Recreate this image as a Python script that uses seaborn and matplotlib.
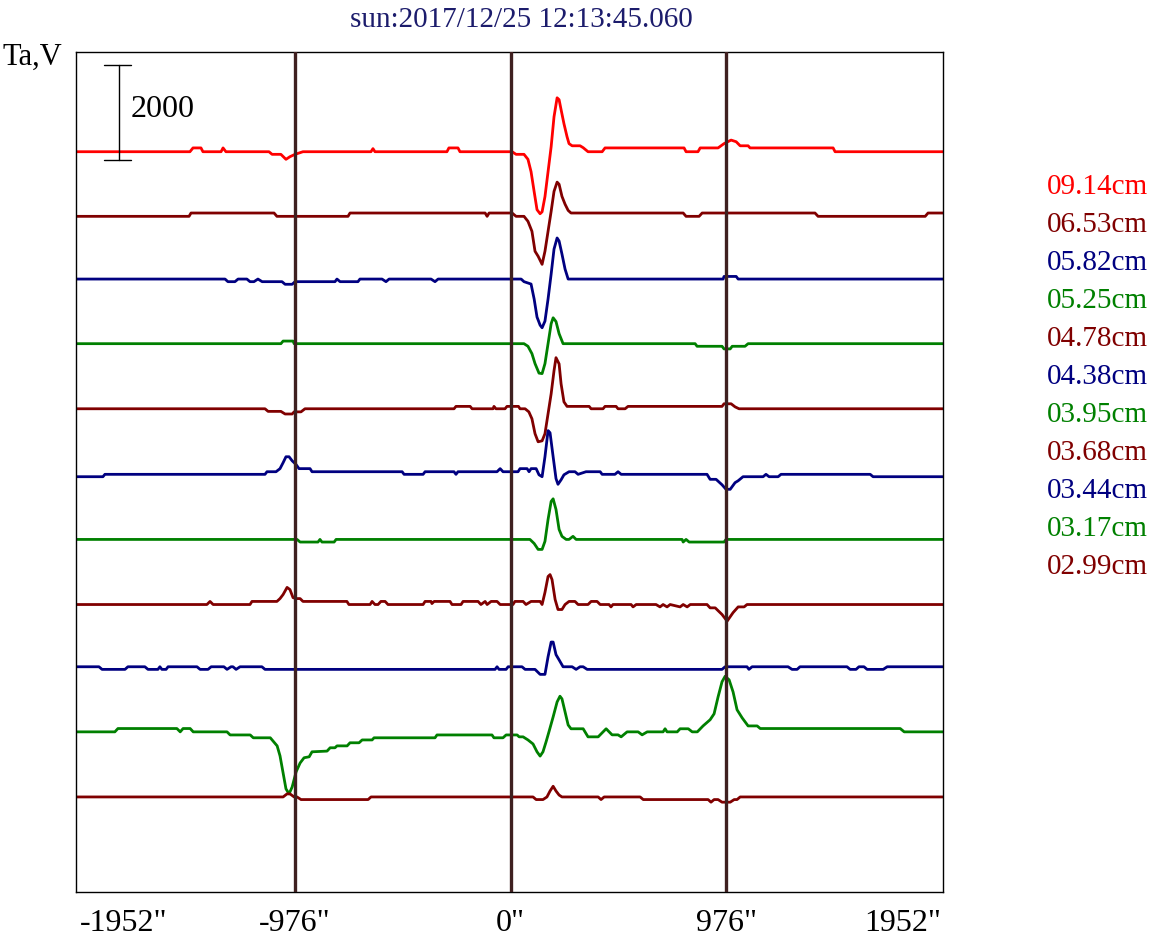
import matplotlib
matplotlib.use('Agg')
import matplotlib.pyplot as plt
import pandas as pd
import seaborn as sns

# Scan profiles: (position in arcsec, deviation of Ta from the trace baseline)
t914 = [(-1969, 0), (-1453, 0), (-1439, 80), (-1403, 80), (-1394, 0), (-1312, 0), (-1303, 80), (-1290, 0),
        (-1095, 0), (-1081, -55), (-1041, -55), (-1018, -160), (-1000, -105), (-977, -55), (-941, 0),
        (-633, 0), (-624, 65), (-615, 0), (-289, 0), (-280, 80), (-239, 80), (-230, 0), (6, 0), (24, -55),
        (60, -55), (78, -160), (92, -420), (106, -840), (119, -1220), (133, -1305), (142, -1265), (155, -945),
        (169, -420), (183, 105), (196, 735), (210, 1135), (219, 1095), (228, 885), (241, 590), (255, 315),
        (264, 170), (278, 125), (314, 125), (328, 85), (350, 0), (414, 0), (427, 80), (785, 80), (794, 0),
        (848, 0), (858, 80), (939, 80), (966, 170), (998, 245), (1021, 210), (1039, 125), (1075, 125),
        (1084, 80), (1460, 80), (1469, 0), (1958, 0)]
t653 = [(-1969, 0), (-1457, 0), (-1448, 70), (-1072, 70), (-1059, 0), (-737, 0), (-728, 70), (-116, 70),
        (-107, 0), (-98, 70), (6, 70), (24, 0), (60, 0), (78, -105), (96, -315), (110, -735), (124, -840),
        (142, -1010), (155, -735), (169, -315), (183, 105), (196, 525), (210, 720), (219, 675), (232, 420),
        (246, 255), (260, 125), (273, 70), (781, 70), (794, 0), (853, 0), (867, 70), (1378, 70), (1392, 0),
        (1877, 0), (1890, 70), (1958, 70)]
t582 = [(-1969, 0), (-1294, 0), (-1281, -55), (-1249, -55), (-1235, 0), (-1195, 0), (-1181, -55), (-1163, -55),
        (-1145, 0), (-1126, -55), (-1036, -55), (-1022, -110), (-990, -110), (-977, -55), (-796, -55),
        (-787, 0), (-773, -55), (-692, -55), (-683, 0), (-583, 0), (-565, -55), (-551, 0), (-361, 0),
        (-343, -55), (-329, 0), (47, 0), (60, -55), (92, -105), (106, -420), (119, -800), (133, -970),
        (142, -1025), (155, -885), (169, -420), (183, 105), (196, 630), (210, 865), (219, 800), (232, 525),
        (246, 210), (260, 0), (962, 0), (966, 55), (1021, 55), (1030, 0), (1958, 0)]
t525 = [(-1969, 0), (-1041, 0), (-1031, 55), (-986, 55), (-981, 0), (60, 0), (78, -55), (96, -210),
        (110, -420), (128, -620), (142, -630), (155, -420), (169, 0), (183, 420), (192, 545), (205, 465),
        (219, 210), (237, 0), (835, 0), (844, -55), (957, -55), (966, -110), (994, -110), (1003, -55),
        (1061, -55), (1075, 0), (1958, 0)]
t478 = [(-1969, 0), (-1113, 0), (-1099, -55), (-1041, -55), (-1022, -110), (-990, -110), (-981, -65),
        (-950, -65), (-932, 0), (-257, 0), (-248, 50), (-184, 50), (-175, 0), (-80, 0), (-76, 50), (-67, 0),
        (-26, 0), (-17, 50), (35, 50), (42, 0), (65, 0), (82, -65), (96, -210), (110, -525), (124, -695),
        (142, -675), (155, -525), (169, -105), (183, 315), (196, 800), (205, 1075), (219, 945), (228, 525),
        (241, 145), (255, 50), (355, 50), (364, 0), (418, 0), (427, 50), (477, 50), (486, 0), (518, 0),
        (531, 50), (957, 50), (966, 105), (998, 105), (1016, 40), (1034, 0), (1958, 0)]
t438 = [(-1969, 0), (-1847, 0), (-1838, 50), (-1113, 50), (-1104, 105), (-1063, 105), (-1045, 170),
        (-1031, 295), (-1018, 420), (-1004, 420), (-990, 335), (-972, 255), (-959, 170), (-909, 170),
        (-900, 105), (-492, 105), (-483, 50), (-397, 50), (-388, 105), (-257, 105), (-248, 50), (-239, 105),
        (-62, 105), (-48, 170), (-35, 105), (33, 105), (42, 170), (74, 170), (83, 105), (92, 170), (115, 170),
        (128, 40), (142, 0), (155, 420), (169, 970), (178, 925), (192, 420), (205, -40), (214, -160),
        (228, -65), (241, 40), (264, 105), (291, 105), (305, 50), (341, 105), (405, 105), (414, 50), (472, 50),
        (486, 105), (500, 50), (889, 50), (903, -55), (930, -55), (957, -170), (975, -265), (994, -265),
        (1016, -125), (1030, -85), (1052, 0), (1143, 0), (1156, 50), (1170, 0), (1211, 0), (1224, 50),
        (1628, 50), (1641, 0), (1958, 0)]
t395 = [(-1969, 0), (-968, 0), (-954, -55), (-873, -55), (-864, 0), (-855, -55), (-800, -55), (-791, 0),
        (87, 0), (106, -85), (124, -210), (142, -210), (155, -40), (169, 420), (183, 800), (192, 855),
        (205, 630), (219, 210), (232, 65), (251, 0), (264, 0), (282, 65), (296, 0), (776, 0), (781, -55),
        (794, 0), (808, -55), (966, -55), (975, 0), (1958, 0)]
t368 = [(-1969, 0), (-1376, 0), (-1362, 65), (-1348, 0), (-1181, 0), (-1172, 65), (-1059, 65), (-1045, 125),
        (-1031, 210), (-1013, 360), (-1000, 315), (-986, 145), (-972, 125), (-954, 125), (-941, 65),
        (-742, 65), (-733, 0), (-637, 0), (-628, 65), (-615, 0), (-601, 0), (-588, 65), (-569, 65), (-556, 0),
        (-397, 0), (-388, 65), (-361, 65), (-357, 20), (-347, 65), (-275, 65), (-266, 0), (-225, 0),
        (-216, 65), (-148, 65), (-135, 0), (-116, 65), (-107, 0), (-89, 65), (-62, 65), (-48, 0), (10, 0),
        (19, 65), (56, 65), (69, 0), (92, 65), (133, 65), (142, 0), (155, 255), (169, 590), (178, 630),
        (187, 525), (201, 105), (214, -105), (232, -105), (246, 0), (264, 65), (291, 65), (305, 0), (350, 0),
        (364, 65), (391, 65), (405, 0), (445, 0), (454, -50), (463, 0), (545, 0), (554, -50), (568, 0),
        (658, 0), (676, -50), (690, 0), (708, -50), (722, 0), (767, -50), (781, 0), (799, -50), (813, 0),
        (889, 0), (903, -70), (926, -70), (957, -210), (980, -350), (1007, -170), (1030, -50), (1057, -50),
        (1070, 0), (1958, 0)]
t344 = [(-1969, 0), (-1865, 0), (-1851, -55), (-1747, -55), (-1734, 0), (-1657, 0), (-1643, -55), (-1598, -55),
        (-1589, 0), (-1580, -55), (-1561, -55), (-1552, 0), (-1421, 0), (-1407, -55), (-1371, -55),
        (-1357, 0), (-1299, 0), (-1285, -55), (-1267, 0), (-1258, 0), (-1244, -55), (-1226, 0), (-1127, 0),
        (-1113, -55), (-71, -55), (-62, 0), (-53, -55), (-21, -55), (-12, 0), (51, 0), (65, -55), (110, -55),
        (133, -160), (155, -160), (169, 210), (183, 520), (192, 520), (205, 255), (219, 145), (237, 0),
        (278, 0), (296, -55), (314, 0), (328, 0), (346, -55), (957, -55), (971, 0), (1070, 0), (1079, -55),
        (1093, 0), (1256, 0), (1274, -55), (1297, -55), (1310, 0), (1523, 0), (1537, -55), (1564, -55),
        (1577, 0), (1600, 0), (1614, -55), (1687, -55), (1705, 0), (1958, 0)]
t317 = [(-1969, 0), (-1793, 0), (-1779, 70), (-1512, 70), (-1497, 0), (-1484, 70), (-1452, 70), (-1438, 0),
        (-1285, 0), (-1271, -65), (-1180, -65), (-1166, -125), (-1089, -125), (-1058, -295), (-1045, -505),
        (-1031, -865), (-1018, -1200), (-1004, -1305), (-990, -1160), (-972, -840), (-954, -655),
        (-936, -545), (-913, -525), (-900, -420), (-832, -405), (-818, -335), (-796, -335), (-787, -295),
        (-741, -295), (-728, -230), (-687, -230), (-673, -170), (-628, -170), (-619, -125), (-343, -125),
        (-334, -65), (-85, -65), (-76, -125), (-35, -125), (-21, -65), (29, -65), (38, -105), (56, -105),
        (78, -170), (101, -255), (119, -420), (133, -510), (146, -420), (160, -210), (173, 0), (192, 315),
        (210, 630), (223, 750), (232, 695), (246, 420), (260, 145), (273, 65), (328, 65), (350, -105),
        (396, -105), (432, 65), (459, -63), (486, -63), (500, -105), (527, 0), (577, 0), (595, -63), (618, 0),
        (690, 0), (699, 65), (708, 0), (754, 0), (767, 65), (804, 65), (822, 0), (845, 0), (871, 125),
        (903, 255), (921, 380), (939, 735), (957, 1055), (971, 1170), (989, 1095), (1007, 840), (1025, 465),
        (1048, 295), (1075, 125), (1116, 125), (1130, 70), (1764, 70), (1782, 0), (1958, 0)]
t299 = [(-1969, 0), (-1031, 0), (-1013, 65), (-1000, 65), (-981, 0), (-968, 0), (-950, -55), (-646, -55),
        (-633, 0), (101, 0), (115, -55), (146, -55), (164, 0), (178, 125), (192, 225), (205, 125), (219, 40),
        (232, 0), (396, 0), (409, -55), (423, 0), (586, 0), (600, -55), (894, -55), (907, -110), (921, -55),
        (939, -55), (957, -110), (994, -110), (1012, -55), (1025, -55), (1039, 0), (1958, 0)]

waves = ['09.14cm', '06.53cm', '05.82cm', '05.25cm', '04.78cm', '04.38cm',
         '03.95cm', '03.68cm', '03.44cm', '03.17cm', '02.99cm']
profiles = [t914, t653, t582, t525, t478, t438, t395, t368, t344, t317, t299]
baselines = [15580, 14220, 12900, 11540, 10170, 8740, 7420, 6050, 4740, 3370, 2000]
colors = ['#ff0000', '#800000', '#000080', '#008000', '#800000', '#000080',
          '#008000', '#800000', '#000080', '#008000', '#800000']
limbs = [-976, 0, 976]
tick_pos = [-1952, -976, 0, 976, 1952]
scale_ta = 2000

rows = []
for w, prof, base in zip(waves, profiles, baselines):
    for x, d in prof:
        rows.append({'wave': w, 'pos': x, 'ta': base + d})
df = pd.DataFrame(rows)

sns.set_style('white')
plt.rcParams['font.family'] = ['Liberation Serif', 'DejaVu Serif']
plt.rcParams['text.color'] = 'black'
plt.rcParams['xtick.color'] = 'black'

fig = plt.figure(figsize=(11.55, 9.41), dpi=100)
ax = fig.add_axes([0.0658, 0.0521, 0.7507, 0.8927])

sns.lineplot(data=df, x='pos', y='ta', hue='wave', palette=dict(zip(waves, colors)),
             estimator=None, sort=False, legend=False, lw=2.0, ax=ax)

# solar limbs and centre
for x in limbs:
    ax.axvline(x, color='#3f2020', lw=2.4, zorder=5)

ax.set_xlim(-1969, 1958)
ax.set_ylim(0, 17680)
ax.set_xlabel('')
ax.set_ylabel('')
ax.set_yticks([])
ax.set_xticks(tick_pos)
labels = ax.set_xticklabels([f'{t}"' for t in tick_pos], fontsize=23, color='black')
labels[0].set_horizontalalignment('left')
labels[-1].set_horizontalalignment('right')
ax.tick_params(axis='x', length=0, pad=12)
for s in ax.spines.values():
    s.set_color('black')
    s.set_linewidth(1.0)

# scale bar
bx = -1774
top = 15415 + scale_ta
ax.plot([bx, bx], [15415, top], color='black', lw=1)
ax.plot([-1841, -1722], [top, top], color='black', lw=1)
ax.plot([-1841, -1722], [15415, 15415], color='black', lw=1)
ax.text(-1720, 15415 + scale_ta * 0.53, str(scale_ta), fontsize=23, va='center', ha='left', color='black')

fig.text(0.451, 0.979, 'sun:2017/12/25 12:13:45.060', ha='center', va='center',
         color='#1c1c6c', fontsize=21)
fig.text(0.002, 0.939, 'Ta,V', ha='left', va='center', fontsize=22, color='black')

for i, (w, c) in enumerate(zip(waves, colors)):
    fig.text(0.906, 0.8015 - i * 0.0404, w, color=c, fontsize=21, ha='left', va='center')

fig.savefig('out.png', dpi=100)
